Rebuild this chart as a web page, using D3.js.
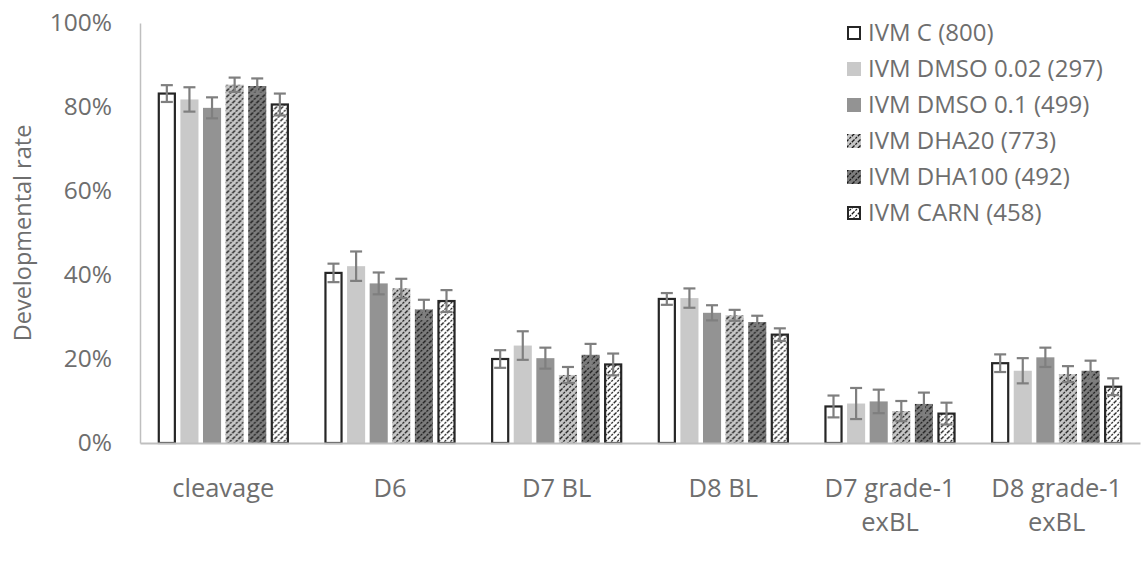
<!DOCTYPE html>
<html>
<head>
<meta charset="utf-8">
<script src="https://cdn.jsdelivr.net/npm/d3@7"></script>
<style>
  html, body { margin: 0; padding: 0; background: #fff; }
  svg { display: block; }
  text { font-family: "Open Sans", "Noto Sans", sans-serif; fill: #6e6e6e; }
</style>
</head>
<body>
<svg id="chart" width="1145" height="562"></svg>
<script>
// ---- data ----
const categories = ["cleavage", "D6", "D7 BL", "D8 BL", "D7 grade-1\nexBL", "D8 grade-1\nexBL"];
const seriesNames = ["IVM C (800)", "IVM DMSO 0.02 (297)", "IVM DMSO 0.1 (499)", "IVM DHA20 (773)", "IVM DHA100 (492)", "IVM CARN (458)"];
const valC      = [83.2, 40.5, 20.0, 34.3,  8.7, 19.0];
const valDMSO02 = [81.8, 42.1, 23.2, 34.5,  9.4, 17.2];
const valDMSO01 = [79.8, 38.0, 20.2, 31.0,  9.9, 20.4];
const valDHA20  = [85.3, 36.8, 16.2, 30.4,  7.6, 16.4];
const valDHA100 = [85.0, 31.8, 21.0, 28.8,  9.3, 17.2];
const valCARN   = [80.6, 33.8, 18.7, 25.8,  7.0, 13.4];
const errC      = [2.0, 2.2, 2.1, 1.4, 2.6, 2.1];
const errDMSO02 = [2.9, 3.5, 3.4, 2.3, 3.7, 3.0];
const errDMSO01 = [2.5, 2.6, 2.5, 1.8, 2.8, 2.3];
const errDHA20  = [1.7, 2.3, 1.9, 1.3, 2.4, 1.9];
const errDHA100 = [1.8, 2.3, 2.6, 1.5, 2.7, 2.4];
const errCARN   = [2.6, 2.6, 2.6, 1.5, 2.6, 2.0];
const yTicks = [0, 20, 40, 60, 80, 100];
const yTitle = "Developmental rate";

const seriesValues = [valC, valDMSO02, valDMSO01, valDHA20, valDHA100, valCARN];
const seriesErrors = [errC, errDMSO02, errDMSO01, errDHA20, errDHA100, errCARN];

// ---- styles ----
const fills = ["#ffffff", "#c9c9c9", "#939393", "url(#pDHA20)", "url(#pDHA100)", "url(#pCARN)"];
const strokes = ["#262626", "none", "none", "none", "none", "#262626"];

const svg = d3.select("#chart");
const margin = {left: 140, right: 5, top: 23, bottom: 119};
const W = 1145, H = 562;

// patterns
const defs = svg.append("defs");
function diagPattern(id, bg) {
  const p = defs.append("pattern").attr("id", id)
    .attr("patternUnits", "userSpaceOnUse").attr("width", 6).attr("height", 6);
  p.append("rect").attr("width", 6).attr("height", 6).attr("fill", bg);
  const ln = (x1, y1, x2, y2) => p.append("line").attr("x1", x1).attr("y1", y1).attr("x2", x2).attr("y2", y2)
    .attr("stroke", "#1a1a1a").attr("stroke-width", 1.3).attr("stroke-dasharray", "2.2,1.2");
  ln(0, 6, 6, 0); ln(-3, 3, 3, -3); ln(3, 9, 9, 3);
}
diagPattern("pDHA20", "#c6c6c6");
diagPattern("pDHA100", "#7c7c7c");
diagPattern("pCARN", "#ffffff");

const x0 = d3.scaleBand().domain(categories).range([margin.left, W - margin.right]).padding(0);
const groupW = 135.6;
const x1 = d3.scaleBand().domain(d3.range(6)).range([0, groupW]).paddingInner(0.2).paddingOuter(0.1);
const y = d3.scaleLinear().domain([0, 100]).range([H - margin.bottom, margin.top]);

// y axis
const yAxis = d3.axisLeft(y).tickValues(yTicks).tickSize(0).tickPadding(28).tickFormat(d => d + "%");
const gy = svg.append("g").attr("transform", `translate(${margin.left},0)`).call(yAxis);
gy.select(".domain").attr("stroke", "#bfbfbf").attr("stroke-width", 1.5);
gy.selectAll("text").style("font-size", "24.5px").attr("fill", "#6e6e6e");

// bars
const groups = svg.append("g").selectAll("g").data(categories).join("g")
  .attr("transform", d => `translate(${x0(d) + (x0.bandwidth() - groupW) / 2},0)`);

groups.each(function(cat, ci) {
  const g = d3.select(this);
  seriesValues.forEach((vals, si) => {
    const v = vals[ci];
    const hasStroke = strokes[si] !== "none";
    const inset = hasStroke ? 1 : 0;
    g.append("rect")
      .attr("x", x1(si) + inset)
      .attr("y", y(v))
      .attr("width", x1.bandwidth() - 2 * inset)
      .attr("height", y(0) - y(v))
      .attr("fill", fills[si])
      .attr("stroke", strokes[si])
      .attr("stroke-width", hasStroke ? 2.2 : 0);
  });
  // error bars
  seriesValues.forEach((vals, si) => {
    const v = vals[ci], e = seriesErrors[si][ci];
    const cx = x1(si) + x1.bandwidth() / 2;
    const eg = g.append("g").attr("stroke", "#7f7f7f").attr("stroke-width", 2.2);
    eg.append("line").attr("x1", cx).attr("x2", cx).attr("y1", y(v + e)).attr("y2", y(v - e));
    eg.append("line").attr("x1", cx - 6).attr("x2", cx + 6).attr("y1", y(v + e)).attr("y2", y(v + e));
    eg.append("line").attr("x1", cx - 6).attr("x2", cx + 6).attr("y1", y(v - e)).attr("y2", y(v - e));
  });
});

// x axis
const gx = svg.append("g").attr("transform", `translate(0,${y(0)})`)
  .call(d3.axisBottom(x0).tickSize(0).tickFormat(""));
gx.select(".domain").attr("stroke", "#bfbfbf").attr("stroke-width", 2);
gx.selectAll(".tick").each(function(d) {
  const t = d3.select(this).append("text").attr("text-anchor", "middle")
    .style("font-size", "25.5px").attr("fill", "#6e6e6e");
  d.split("\n").forEach((line, i) => {
    t.append("tspan").attr("x", 0).attr("y", 54 + i * 34).text(line);
  });
});

// y title
svg.append("text")
  .attr("transform", `translate(31,${(y(0) + y(100)) / 2}) rotate(-90)`)
  .attr("text-anchor", "middle")
  .style("font-size", "23.5px")
  .text(yTitle);

// legend
const legend = svg.append("g").attr("transform", "translate(847,33)");
seriesNames.forEach((name, i) => {
  const row = legend.append("g").attr("transform", `translate(0,${i * 36})`);
  const hasStroke = strokes[i] !== "none";
  row.append("rect").attr("x", hasStroke ? 1 : 0).attr("y", hasStroke ? -6 : -7)
    .attr("width", hasStroke ? 12 : 14).attr("height", hasStroke ? 12 : 14)
    .attr("fill", fills[i]).attr("stroke", strokes[i]).attr("stroke-width", hasStroke ? 2 : 0);
  row.append("text").attr("x", 21).attr("y", 0).attr("dy", "0.35em")
    .style("font-size", "24px").text(name);
});
</script>
</body>
</html>
